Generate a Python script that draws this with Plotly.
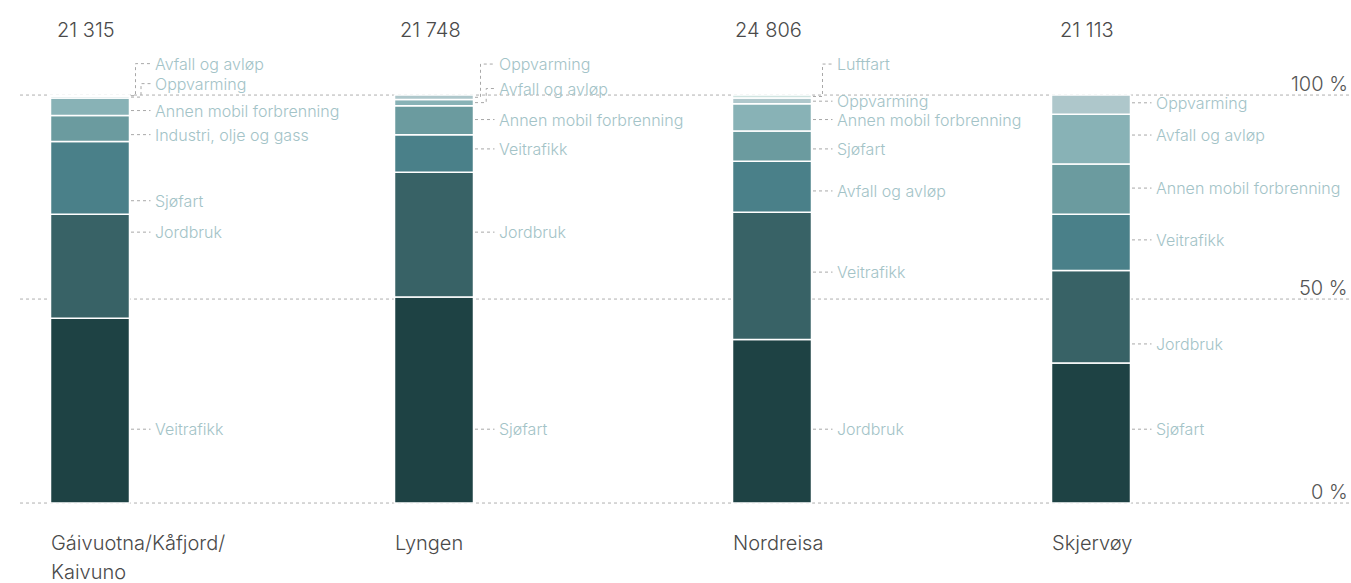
import plotly.graph_objects as go

# --- data -----------------------------------------------------------------
municipality_lines = [["Gáivuotna/Kåfjord/", "Kaivuno"], ["Lyngen"], ["Nordreisa"], ["Skjervøy"]]
totals = [21315, 21748, 24806, 21113]

# sectors listed from the bottom of each stack to the top, with shares in %
sectors_gaivuotna = ["Veitrafikk", "Jordbruk", "Sjøfart", "Industri, olje og gass",
                     "Annen mobil forbrenning", "Oppvarming", "Avfall og avløp"]
shares_gaivuotna = [45.3, 25.5, 17.8, 6.4, 4.3, 0.4, 0.3]

sectors_lyngen = ["Sjøfart", "Jordbruk", "Veitrafikk", "Annen mobil forbrenning",
                  "Avfall og avløp", "Oppvarming"]
shares_lyngen = [50.5, 30.6, 9.2, 7.1, 1.5, 1.1]

sectors_nordreisa = ["Jordbruk", "Veitrafikk", "Avfall og avløp", "Sjøfart",
                     "Annen mobil forbrenning", "Oppvarming", "Luftfart"]
shares_nordreisa = [40.1, 31.2, 12.5, 7.4, 6.7, 1.4, 0.7]

sectors_skjervoy = ["Sjøfart", "Jordbruk", "Veitrafikk", "Annen mobil forbrenning",
                    "Avfall og avløp", "Oppvarming"]
shares_skjervoy = [34.3, 22.7, 13.8, 12.3, 12.2, 4.7]

pct_ticks = [0, 50, 100]
pct_tick_labels = ["0 %", "50 %", "100 %"]

sectors = [sectors_gaivuotna, sectors_lyngen, sectors_nordreisa, sectors_skjervoy]
shares = [shares_gaivuotna, shares_lyngen, shares_nordreisa, shares_skjervoy]

# --- layout / style -------------------------------------------------------
W, H = 1351, 583
BAR_X = [90, 434, 772, 1091]
BAR_W = 79
Y_RANGE = [-19.6, 123.3]
STACK_COLORS = ["#1e4244", "#386266", "#4a8089", "#6b9b9f", "#88b2b6", "#aec7cb", "#d0e4e1"]
LABEL_COLOR = "#a3c3c7"
TEXT_COLOR = "#4a4a4a"
GRID_COLOR = "#b0b0b0"
LEADER_COLOR = "#a8a8a8"
FONT = "Inter"

# label heights (in % units) for each sector label, same order as sectors
LABEL_Y = [
    [18.1, 66.4, 74.1, 90.3, 96.2, 102.8, 107.7],
    [18.1, 66.4, 86.8, 94.0, 101.6, 107.6],
    [18.1, 56.6, 76.5, 86.8, 94.0, 98.5, 107.6],
    [18.1, 39.0, 64.5, 77.2, 90.2, 98.1],
]
# elbow leaders: sector index -> horizontal offset of the elbow from the bar edge
ELBOWS = [{5: 11.5, 6: 6}, {4: 12.7, 5: 7}, {6: 11}, {}]

fig = go.Figure()

annotations = []
shapes = []

# dotted grid lines
for t, lab in zip(pct_ticks, pct_tick_labels):
    shapes.append(dict(type="line", xref="x", yref="y", x0=20, x1=W, y0=t, y1=t,
                       line=dict(color=GRID_COLOR, width=1, dash="dot"), layer="below"))
    annotations.append(dict(x=W - 1, y=t, xref="x", yref="y", text=lab, showarrow=False,
                            xanchor="right", yanchor="middle", yshift=11,
                            font=dict(family=FONT, size=20, color="#555555", weight=300)))

for i, (secs, vals) in enumerate(zip(sectors, shares)):
    xc = BAR_X[i]
    right = xc + BAR_W / 2
    base = 0
    for j, (s, v) in enumerate(zip(secs, vals)):
        fig.add_trace(go.Bar(
            x=[xc], y=[v], base=[base], width=BAR_W,
            marker=dict(color=STACK_COLORS[j], line=dict(color="white", width=1.5)),
            name=s, showlegend=False, hoverinfo="skip",
        ))
        mid = base + v / 2
        ly = LABEL_Y[i][j]
        x_start = right + 1.5
        x_end = right + 21
        if j in ELBOWS[i]:
            xe = right + ELBOWS[i][j]
            shapes.append(dict(type="path", xref="x", yref="y",
                               path=f"M {x_start},{mid} L {xe},{mid} L {xe},{ly} L {x_end},{ly}",
                               line=dict(color=LEADER_COLOR, width=1, dash="dot")))
        else:
            shapes.append(dict(type="line", xref="x", yref="y", x0=x_start, x1=x_end,
                               y0=ly, y1=ly, line=dict(color=LEADER_COLOR, width=1, dash="dot")))
        annotations.append(dict(x=right + 23.5, y=ly, xref="x", yref="y", text=s, showarrow=False,
                                xanchor="left", yanchor="middle",
                                font=dict(family=FONT, size=16, color=LABEL_COLOR, weight=300)))
        base += v

    # total above bar
    annotations.append(dict(x=xc - 4, y=115.9, xref="x", yref="y",
                            text=f"{totals[i]:,}".replace(",", " "), showarrow=False,
                            xanchor="center", yanchor="middle",
                            font=dict(family=FONT, size=20, color=TEXT_COLOR, weight=300)))
    # municipality name below bar
    for k, line in enumerate(municipality_lines[i]):
        annotations.append(dict(x=xc - BAR_W / 2 - 2, y=-9.8, xref="x", yref="y", text=line,
                                showarrow=False, xanchor="left", yanchor="middle", yshift=-29 * k,
                                font=dict(family=FONT, size=20, color=TEXT_COLOR, weight=300)))

fig.update_layout(
    width=W, height=H,
    margin=dict(l=0, r=0, t=0, b=0),
    paper_bgcolor="white", plot_bgcolor="white",
    barmode="overlay",
    xaxis=dict(range=[0, W], visible=False, fixedrange=True),
    yaxis=dict(range=Y_RANGE, visible=False, fixedrange=True),
    shapes=shapes,
    annotations=annotations,
    font=dict(family=FONT),
)

fig.write_html("out.html", config={"displayModeBar": False})
